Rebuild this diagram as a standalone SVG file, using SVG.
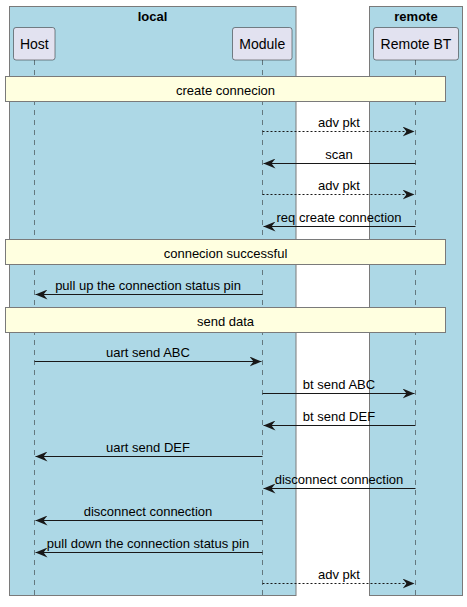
<svg xmlns="http://www.w3.org/2000/svg" width="467" height="607" viewBox="0 0 467 607">
<defs>
<style>
text{font-family:"Liberation Sans",Arial,sans-serif;font-size:13px;fill:#000}
.grp{fill:#ADD8E6;stroke:#7A7A7A;stroke-width:1}
.gt{font-weight:bold;text-anchor:middle}
.part{fill:#E2E2F0;stroke:#181818;stroke-width:0.5}
.pt{text-anchor:middle;font-size:14px}
.life{stroke:#181818;stroke-width:0.5;stroke-dasharray:5,5;fill:none}
.div{fill:#FFFFE0;stroke:#7A7A7A;stroke-width:1}
.dt{text-anchor:middle}
.msg{stroke:#181818;stroke-width:1;fill:none}
.dash{stroke-dasharray:2,2}
.ml{text-anchor:middle}
</style>
<marker id="ar" viewBox="0 0 12 10" refX="12" refY="5" markerWidth="12" markerHeight="10" markerUnits="userSpaceOnUse" orient="auto">
<polygon points="0,0 12,5 0,10 4,5" fill="#181818"/>
</marker>
</defs>
<g id="group-local"><rect class="grp" x="9.5" y="6.5" width="286.5" height="589"/><text class="gt" x="152.5" y="21">local</text></g>
<g id="group-remote"><rect class="grp" x="369.5" y="6.5" width="93" height="589"/><text class="gt" x="416" y="21">remote</text></g>
<g id="lifelines">
<line class="life" x1="34.5" y1="60" x2="34.5" y2="596"/>
<line class="life" x1="262.5" y1="60" x2="262.5" y2="596"/>
<line class="life" x1="415.5" y1="60" x2="415.5" y2="596"/>
</g>
<g id="Host"><rect class="part" x="13.5" y="27.5" width="41.5" height="32.5" rx="2.5"/><text class="pt" x="34.3" y="49">Host</text></g>
<g id="Module"><rect class="part" x="232.5" y="27.5" width="59.5" height="32.5" rx="2.5"/><text class="pt" x="262.3" y="49">Module</text></g>
<g id="RemoteBT"><rect class="part" x="373.5" y="27.5" width="85" height="32.5" rx="2.5"/><text class="pt" x="416" y="49">Remote BT</text></g>
<g id="div1"><rect class="div" x="5.5" y="76.5" width="440" height="25"/><text class="dt" x="225.5" y="95">create connecion</text></g>
<g id="div2"><rect class="div" x="5.5" y="239.5" width="440" height="25"/><text class="dt" x="225.5" y="258">connecion successful</text></g>
<g id="div3"><rect class="div" x="5.5" y="307.5" width="440" height="25"/><text class="dt" x="225.5" y="326">send data</text></g>
<g id="connectors">
<line class="msg dash" x1="262.5" y1="131.5" x2="414.5" y2="131.5" marker-end="url(#ar)"/>
<text class="ml" x="339" y="127">adv pkt</text>
<line class="msg" x1="415.5" y1="163.5" x2="263.5" y2="163.5" marker-end="url(#ar)"/>
<text class="ml" x="339" y="159">scan</text>
<line class="msg dash" x1="262.5" y1="194.5" x2="414.5" y2="194.5" marker-end="url(#ar)"/>
<text class="ml" x="339" y="190">adv pkt</text>
<line class="msg" x1="415.5" y1="226.5" x2="263.5" y2="226.5" marker-end="url(#ar)"/>
<text class="ml" x="339" y="222">req create connection</text>
<line class="msg" x1="262.5" y1="294.5" x2="35.5" y2="294.5" marker-end="url(#ar)"/>
<text class="ml" x="148" y="290">pull up the connection status pin</text>
<line class="msg" x1="34.5" y1="361.5" x2="261.5" y2="361.5" marker-end="url(#ar)"/>
<text class="ml" x="148" y="357">uart send ABC</text>
<line class="msg" x1="262.5" y1="393.5" x2="414.5" y2="393.5" marker-end="url(#ar)"/>
<text class="ml" x="339" y="389">bt send ABC</text>
<line class="msg" x1="415.5" y1="425.5" x2="263.5" y2="425.5" marker-end="url(#ar)"/>
<text class="ml" x="339" y="421">bt send DEF</text>
<line class="msg" x1="262.5" y1="456.5" x2="35.5" y2="456.5" marker-end="url(#ar)"/>
<text class="ml" x="148" y="452">uart send DEF</text>
<line class="msg" x1="415.5" y1="488.5" x2="263.5" y2="488.5" marker-end="url(#ar)"/>
<text class="ml" x="339" y="484">disconnect connection</text>
<line class="msg" x1="262.5" y1="520.5" x2="35.5" y2="520.5" marker-end="url(#ar)"/>
<text class="ml" x="148" y="516">disconnect connection</text>
<line class="msg" x1="262.5" y1="552.5" x2="35.5" y2="552.5" marker-end="url(#ar)"/>
<text class="ml" x="148" y="548">pull down the connection status pin</text>
<line class="msg dash" x1="262.5" y1="583.5" x2="414.5" y2="583.5" marker-end="url(#ar)"/>
<text class="ml" x="339" y="579">adv pkt</text>
</g>
</svg>
